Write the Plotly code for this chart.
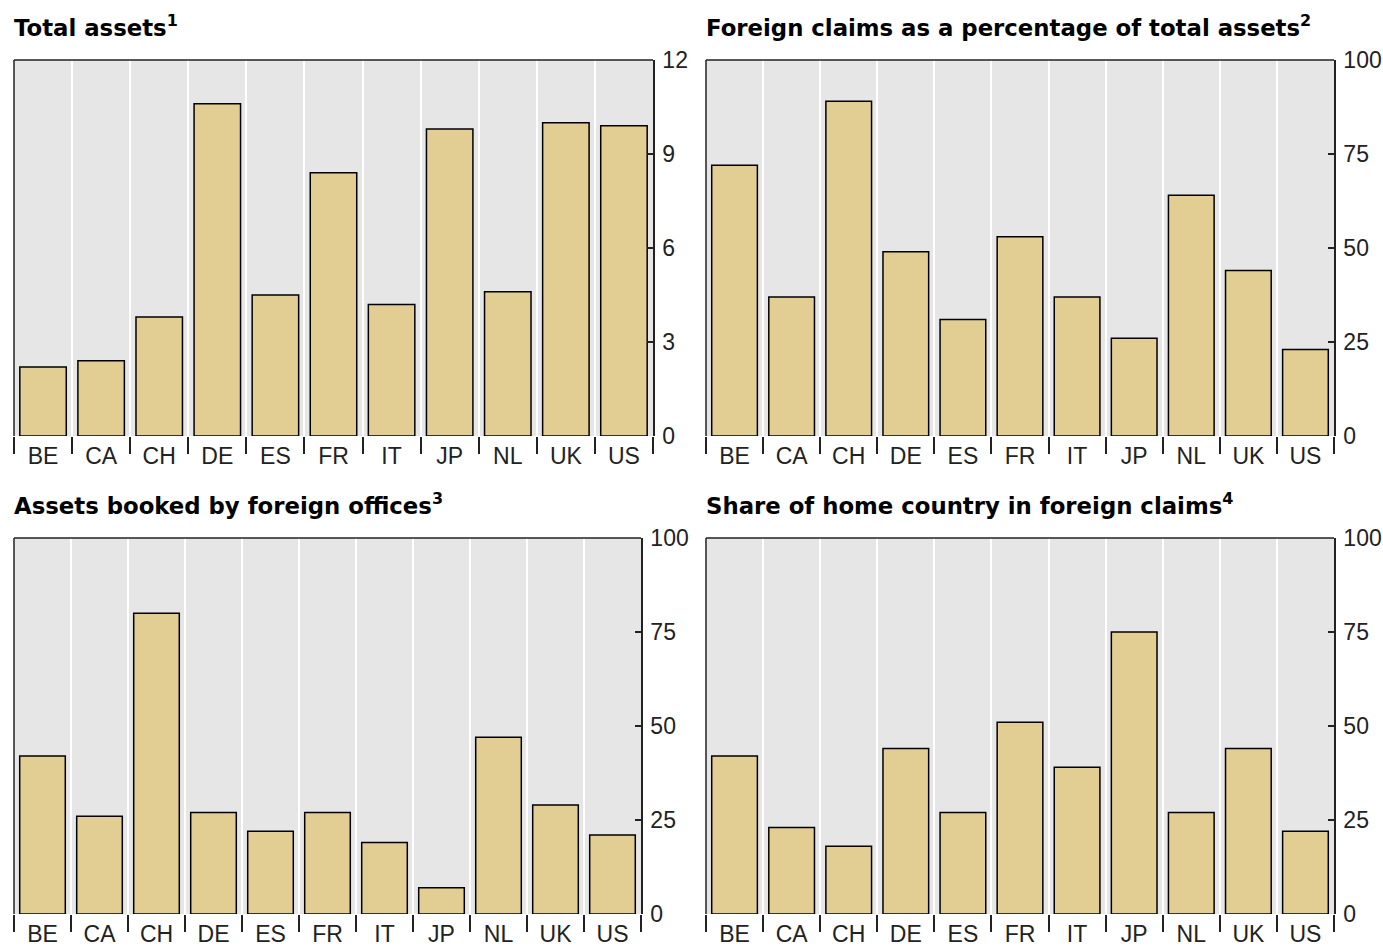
import plotly.graph_objects as go

countries = ["BE", "CA", "CH", "DE", "ES", "FR", "IT", "JP", "NL", "UK", "US"]

total_assets = [2.2, 2.4, 3.8, 10.6, 4.5, 8.4, 4.2, 9.8, 4.6, 10.0, 9.9]
foreign_claims_pct = [72, 37, 89, 49, 31, 53, 37, 26, 64, 44, 23]
assets_foreign_offices = [42, 26, 80, 27, 22, 27, 19, 7, 47, 29, 21]
home_country_share = [42, 23, 18, 44, 27, 51, 39, 75, 27, 44, 22]

titles = [
    "Total assets<sup>1</sup>",
    "Foreign claims as a percentage of total assets<sup>2</sup>",
    "Assets booked by foreign offices<sup>3</sup>",
    "Share of home country in foreign claims<sup>4</sup>",
]
series = [total_assets, foreign_claims_pct, assets_foreign_offices, home_country_share]
y_ranges = [[0, 12], [0, 100], [0, 100], [0, 100]]
y_dticks = [3, 25, 25, 25]

W, H = 1383, 947
# pixel boxes: (left, right, top, bottom)
boxes = [(14, 653, 60, 436), (706, 1334, 60, 436), (14, 641, 538, 914), (706, 1334, 538, 914)]

BAR = "#E2CE92"
BG = "#E6E6E6"

fig = go.Figure()
layout = dict(
    width=W, height=H,
    margin=dict(l=0, r=0, t=0, b=0, autoexpand=False),
    paper_bgcolor="white",
    plot_bgcolor=BG,
    showlegend=False,
    bargap=0.2,
    annotations=[],
    shapes=[],
)

for i, (vals, title, yr, dt, box) in enumerate(zip(series, titles, y_ranges, y_dticks, boxes)):
    n = "" if i == 0 else str(i + 1)
    xa, ya = "x" + n, "y" + n
    fig.add_trace(go.Bar(
        x=countries, y=vals, xaxis=xa, yaxis=ya,
        marker=dict(color=BAR, line=dict(color="black", width=1.5)),
        width=0.8,
    ))
    l, r, t, b = box
    layout["xaxis" + n] = dict(
        domain=[l / W, r / W], anchor=ya,
        type="category", categoryorder="array", categoryarray=countries,
        tickson="boundaries", ticks="outside", ticklen=17, tickwidth=1.5, tickcolor="#222",
        showgrid=True, gridcolor="white", gridwidth=2,
        showline=False, zeroline=False, automargin=False,
        tickfont=dict(family="Liberation Sans, Arial", size=23, color="#222"),
        ticklabelstandoff=4,
        fixedrange=True,
    )
    layout["yaxis" + n] = dict(
        domain=[1 - b / H, 1 - t / H], anchor=xa, side="right",
        range=yr, dtick=dt, tick0=0,
        showgrid=False, zeroline=False, automargin=False,
        showline=True, linecolor="#222", linewidth=1.5,
        ticks="inside", ticklen=6, tickwidth=1.5, tickcolor="#222",
        tickfont=dict(family="Liberation Sans, Arial", size=23, color="#222"),
        ticklabelstandoff=3,
        fixedrange=True,
    )
    # top and left border lines of the panel
    layout["shapes"].append(dict(type="line", xref=xa + " domain", yref=ya + " domain",
                                 x0=0, x1=1, y0=1, y1=1, line=dict(color="#222", width=1.5)))
    layout["shapes"].append(dict(type="line", xref=xa + " domain", yref=ya + " domain",
                                 x0=0, x1=0, y0=0, y1=1, line=dict(color="#222", width=1.5)))
    layout["annotations"].append(dict(
        text=title, xref="paper", yref="paper",
        x=(l - 2) / W, y=1 - (t - 34) / H, xanchor="left", yanchor="middle",
        showarrow=False,
        font=dict(family="DejaVu Sans", size=22.8, color="black", weight="bold"),
    ))

fig.update_layout(**layout)
fig.write_html("out.html", config={"displayModeBar": False},
               post_script="document.body.style.margin='0';")
